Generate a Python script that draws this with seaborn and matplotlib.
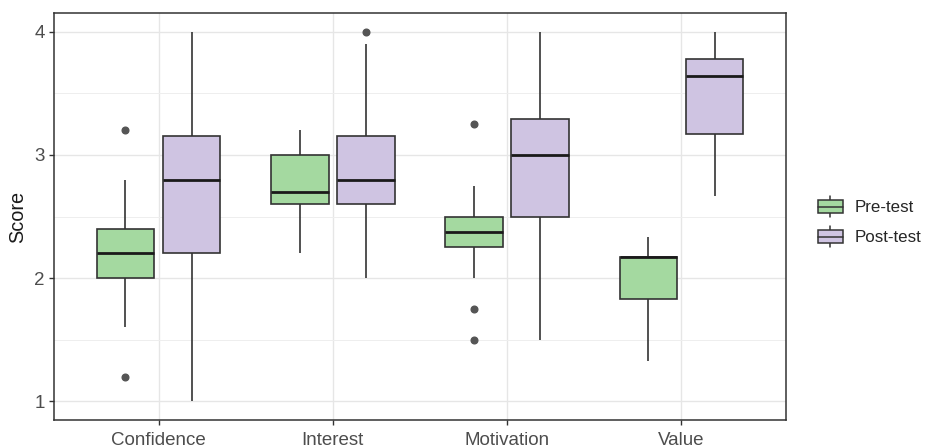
import pandas as pd
import matplotlib
matplotlib.use("Agg")
import matplotlib.pyplot as plt
import seaborn as sns
from matplotlib.legend_handler import HandlerBase
from matplotlib.patches import Rectangle, Patch
from matplotlib.lines import Line2D
from matplotlib.ticker import MultipleLocator

# Data (scores estimated from the box plot: quartiles, whiskers, outliers)
categories = ["Confidence", "Interest", "Motivation", "Value"]
phases = ["Pre-test", "Post-test"]

confidence_pre = [1.2, 1.6, 2.0, 2.0, 2.0, 2.2, 2.2, 2.2, 2.4, 2.4, 2.4, 2.6, 2.8, 3.2]
confidence_post = [1.0, 1.6, 2.0, 2.2, 2.2, 2.4, 2.8, 2.8, 3.0, 3.0, 3.2, 3.4, 3.8, 4.0]
interest_pre = [2.2, 2.4, 2.6, 2.6, 2.6, 2.6, 2.6, 2.8, 2.8, 3.0, 3.0, 3.0, 3.2, 3.2]
interest_post = [2.0, 2.2, 2.4, 2.6, 2.6, 2.6, 2.8, 2.8, 3.0, 3.0, 3.2, 3.4, 3.9, 4.0]
motivation_pre = [1.5, 1.75, 2.0, 2.25, 2.25, 2.25, 2.25, 2.5, 2.5, 2.5, 2.5, 2.75, 2.75, 3.25]
motivation_post = [1.5, 1.75, 2.0, 2.5, 2.5, 2.75, 3.0, 3.0, 3.25, 3.29, 3.29, 3.5, 3.75, 4.0]
value_pre = [1.33, 1.5, 1.67, 1.83, 1.83, 2.0, 2.17, 2.17, 2.17, 2.17, 2.17, 2.17, 2.33, 2.33]
value_post = [2.67, 2.83, 3.0, 3.17, 3.17, 3.33, 3.64, 3.64, 3.67, 3.78, 3.78, 3.83, 4.0, 4.0]

colors = {"Pre-test": "#a4d9a0", "Post-test": "#cfc4e2"}

groups = {
    ("Confidence", "Pre-test"): confidence_pre,
    ("Confidence", "Post-test"): confidence_post,
    ("Interest", "Pre-test"): interest_pre,
    ("Interest", "Post-test"): interest_post,
    ("Motivation", "Pre-test"): motivation_pre,
    ("Motivation", "Post-test"): motivation_post,
    ("Value", "Pre-test"): value_pre,
    ("Value", "Post-test"): value_post,
}
rows = []
for (cat, phase), vals in groups.items():
    for v in vals:
        rows.append({"measure": cat, "phase": phase, "score": v})
df = pd.DataFrame(rows)


class HandlerBox(HandlerBase):
    # little ggplot-style boxplot glyph for the legend
    def create_artists(self, legend, orig_handle, xdescent, ydescent,
                       width, height, fontsize, trans):
        x0, y0 = -xdescent, -ydescent
        lc = "#333333"
        rect = Rectangle((x0, y0 + 0.08 * height), width, 0.84 * height,
                         facecolor=orig_handle.get_facecolor(), edgecolor=lc,
                         lw=1.1, transform=trans)
        cx = x0 + width / 2
        med = Line2D([x0, x0 + width], [y0 + 0.5 * height] * 2, color=lc, lw=1.1, transform=trans)
        w1 = Line2D([cx, cx], [y0 - 0.22 * height, y0 + 0.08 * height], color=lc, lw=1.1, transform=trans)
        w2 = Line2D([cx, cx], [y0 + 0.92 * height, y0 + 1.22 * height], color=lc, lw=1.1, transform=trans)
        return [w1, w2, rect, med]


sns.set_theme(style="white")
plt.rcParams["font.family"] = ["Liberation Sans", "DejaVu Sans"]

fig = plt.figure(figsize=(9.27, 4.47), dpi=100)
ax = fig.add_axes([54 / 927, 1 - 420 / 447, (786 - 54) / 927, (420 - 13) / 447])

sns.boxplot(data=df, x="measure", y="score", hue="phase", order=categories,
            hue_order=phases, palette=colors, saturation=1, width=0.76, gap=0.13,
            linewidth=1.2, linecolor="#333333", showcaps=False,
            medianprops=dict(color="#1a1a1a", linewidth=2.0),
            flierprops=dict(marker="o", markersize=4.8, markerfacecolor="#555555",
                            markeredgecolor="#555555"),
            ax=ax)

ax.legend_.remove()
ax.set_xlim(-0.6, 3.6)
ax.set_ylim(0.85, 4.15)
ax.set_yticks([1, 2, 3, 4])
ax.yaxis.set_minor_locator(MultipleLocator(0.5))
ax.set_axisbelow(True)
ax.grid(which="major", color="#e6e6e6", lw=1.0)
ax.grid(which="minor", axis="y", color="#eeeeee", lw=0.7)

for s in ax.spines.values():
    s.set_color("#333333")
    s.set_linewidth(1.1)

ax.tick_params(which="major", length=3.5, width=1.0, color="#333333",
               labelcolor="#4d4d4d", labelsize=13.5, pad=3)
ax.tick_params(axis="x", pad=5)
ax.tick_params(which="minor", length=0)
ax.tick_params(axis="x", bottom=True)
ax.tick_params(axis="y", left=True)
ax.set_xlabel("")
ax.set_ylabel("Score", fontsize=14.3, color="#1a1a1a", labelpad=5)

handles = [Patch(facecolor=colors[p]) for p in phases]
fig.legend(handles, phases, loc="center left", bbox_to_anchor=(0.866, 0.503),
           bbox_transform=fig.transFigure, frameon=False, fontsize=12.2,
           handlelength=1.45, handleheight=1.0, labelspacing=0.8, handletextpad=0.7,
           handler_map={h: HandlerBox() for h in handles})

fig.savefig("out.png", dpi=100)
